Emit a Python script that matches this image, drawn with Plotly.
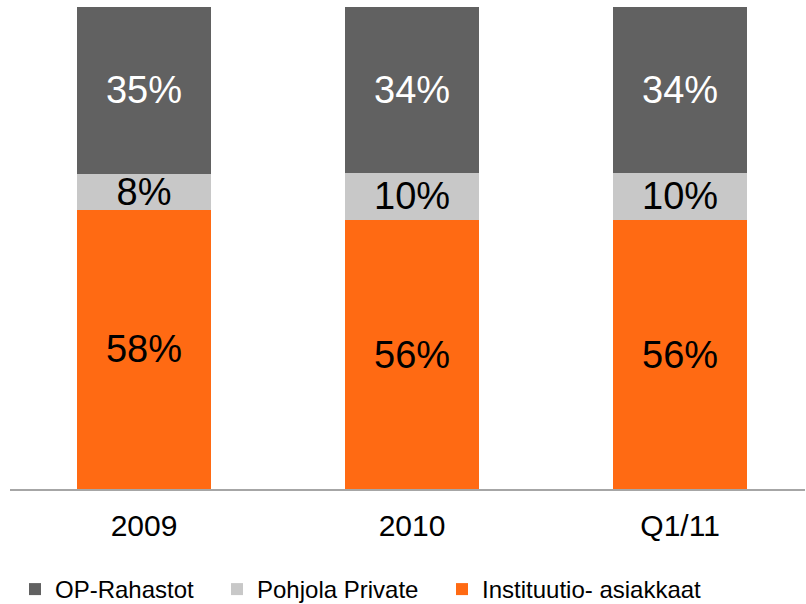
import plotly.graph_objects as go

categories = ["2009", "2010", "Q1/11"]
instituutio = [57.9, 55.8, 55.8]
pohjola = [7.5, 9.8, 9.8]
op_rahastot = [34.6, 34.4, 34.4]

series = [
    ("Instituutio- asiakkaat", instituutio, "#FF6A13", "#000000", "legend3"),
    ("Pohjola Private", pohjola, "#C8C8C8", "#000000", "legend2"),
    ("OP-Rahastot", op_rahastot, "#616161", "#FFFFFF", "legend"),
]

fig = go.Figure()
for name, vals, color, tcolor, leg in series:
    fig.add_trace(go.Bar(
        x=categories, y=vals, name=name,
        marker=dict(color=color, line=dict(width=0)),
        texttemplate="%{y:.0f}%", textposition="inside",
        insidetextanchor="middle", textangle=0,
        textfont=dict(size=38, color=tcolor, family="Liberation Sans"),
        legend=leg, width=0.5,
    ))

leg_common = dict(orientation="h", xanchor="left", y=-0.2085, yanchor="middle",
                  font=dict(size=24), bgcolor="rgba(0,0,0,0)")

fig.update_layout(
    barmode="stack",
    width=806, height=604,
    margin=dict(l=10, r=1, t=7, b=115, autoexpand=False),
    plot_bgcolor="white", paper_bgcolor="white",
    font=dict(family="Liberation Sans", color="#000000"),
    uniformtext=dict(minsize=38, mode="show"),
    showlegend=True,
    legend=dict(x=0.0063, **leg_common),
    legend2=dict(x=0.2604, **leg_common),
    legend3=dict(x=0.5434, **leg_common),
    xaxis=dict(range=[-0.5, 2.466], showline=True, linecolor="#A6A6A6", linewidth=2,
               ticks="", tickfont=dict(size=30), showgrid=False, ticklabelstandoff=9,
               automargin=False),
    yaxis=dict(range=[0, 100], visible=False, showgrid=False, automargin=False),
)

fig.write_html("out.html", config={"displayModeBar": False},
               post_script="document.body.style.margin='0px';")
